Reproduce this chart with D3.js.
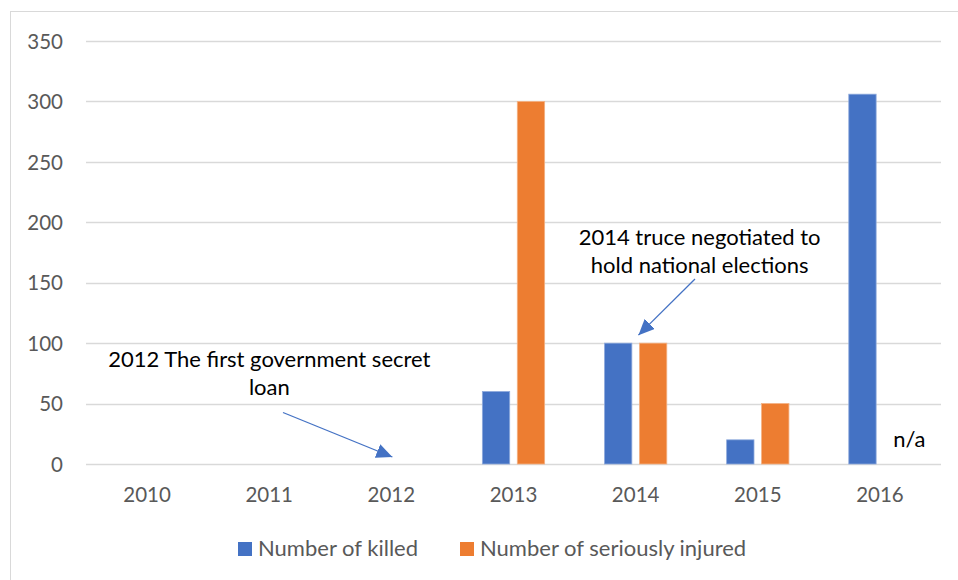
<!DOCTYPE html>
<html>
<head>
<meta charset="utf-8">
<script src="https://cdn.jsdelivr.net/npm/d3@7"></script>
<style>
  html, body { margin: 0; padding: 0; background: #fff; }
  svg { display: block; }
  text { font-family: Lato, "Open Sans", sans-serif; }
</style>
</head>
<body>
<svg id="chart" width="958" height="580"></svg>
<script>
const years = ["2010", "2011", "2012", "2013", "2014", "2015", "2016"];
const killed = [null, null, 0, 60, 100, 20, 306];
const injured = [null, null, 0, 300, 100, 50, null];
const seriesNames = ["Number of killed", "Number of seriously injured"];
const seriesColors = ["#4472C4", "#ED7D31"];
const yTicks = [0, 50, 100, 150, 200, 250, 300, 350];
const annotations = [
  { lines: ["2012 The first government secret", "loan"], year: "2012", value: 0 },
  { lines: ["2014 truce negotiated to", "hold national elections"], year: "2014", value: 100 }
];

const svg = d3.select("#chart");
const margin = { left: 86, right: 941, top: 41, bottom: 464 };

// chart border
svg.append("rect")
  .attr("x", 10.5).attr("y", 11.5)
  .attr("width", 960).attr("height", 600)
  .attr("fill", "none").attr("stroke", "#D9D9D9").attr("stroke-width", 1);

const y = d3.scaleLinear().domain([0, 350]).range([margin.bottom, margin.top]);
const x0 = d3.scaleBand().domain(years).range([margin.left, margin.right])
  .paddingInner(0.49).paddingOuter(0.245);
const x1 = d3.scaleBand().domain([0, 1]).range([0, x0.bandwidth()]).paddingInner(0.217).paddingOuter(0);

// gridlines
svg.append("g").selectAll("line").data(yTicks).join("line")
  .attr("x1", margin.left).attr("x2", margin.right)
  .attr("y1", d => Math.round(y(d)) + 0.5).attr("y2", d => Math.round(y(d)) + 0.5)
  .attr("stroke", "#D9D9D9").attr("stroke-width", 1.3);

// y axis labels
const yAxis = d3.axisLeft(y).tickValues(yTicks).tickSize(0).tickPadding(0);
const gy = svg.append("g").attr("transform", `translate(63,0)`).call(yAxis);
gy.select(".domain").remove();
gy.selectAll("text").attr("font-size", 20.5).attr("fill", "#595959")
  .attr("font-family", "Lato, sans-serif").attr("dy", "0.35em");

// x axis labels
const xAxis = d3.axisBottom(x0).tickSize(0).tickPadding(0);
const gx = svg.append("g").attr("transform", `translate(0,${margin.bottom})`).call(xAxis);
gx.select(".domain").remove();
gx.selectAll("text").attr("font-size", 20.5).attr("fill", "#595959")
  .attr("font-family", "Lato, sans-serif").attr("y", 38).attr("dy", "0");

// bars
const series = [killed, injured];
series.forEach((vals, si) => {
  svg.append("g").selectAll("rect")
    .data(years.map((yr, i) => ({ yr, v: vals[i] })).filter(d => d.v != null && d.v > 0))
    .join("rect")
    .attr("x", d => x0(d.yr) + x1(si))
    .attr("width", x1.bandwidth())
    .attr("y", d => y(d.v))
    .attr("height", d => y(0) - y(d.v))
    .attr("fill", seriesColors[si])
    .attr("stroke", si === 0 ? "#8FAADC" : "#F4B183")
    .attr("stroke-width", 0.8);
});

// n/a label for 2016 injured
svg.append("text")
  .attr("x", x0("2016") + x1(1) + x1.bandwidth() / 2 + 12)
  .attr("y", y(0) - 17)
  .attr("text-anchor", "middle")
  .attr("font-size", 22).attr("fill", "#000")
  .text("n/a");

// arrow marker
const defs = svg.append("defs");
defs.append("marker").attr("id", "arrow")
  .attr("viewBox", "0 0 10 9").attr("refX", 10).attr("refY", 4.5)
  .attr("markerWidth", 16).attr("markerHeight", 14.4)
  .attr("markerUnits", "userSpaceOnUse")
  .attr("orient", "auto")
  .append("path").attr("d", "M0,0 L10,4.5 L0,9 Z").attr("fill", "#4472C4");

// annotation 2012
const a0 = annotations[0];
const a0x = x0(a0.year) + x0.bandwidth() / 2 - 122;
svg.append("text").attr("text-anchor", "middle").attr("font-size", 22).attr("fill", "#000")
  .selectAll("tspan").data(a0.lines).join("tspan")
  .attr("x", a0x).attr("y", (d, i) => 367 + i * 28).text(d => d);
svg.append("line")
  .attr("x1", 283).attr("y1", 412.5)
  .attr("x2", x0(a0.year) + x0.bandwidth() / 2 + 1).attr("y2", y(a0.value) - 7)
  .attr("stroke", "#4472C4").attr("stroke-width", 1.3)
  .attr("marker-end", "url(#arrow)");

// annotation 2014
const a1 = annotations[1];
const a1x = x0(a1.year) + x0.bandwidth() / 2 + 64;
svg.append("text").attr("text-anchor", "middle").attr("font-size", 22).attr("fill", "#000")
  .selectAll("tspan").data(a1.lines).join("tspan")
  .attr("x", a1x).attr("y", (d, i) => 245 + i * 28).text(d => d);
svg.append("line")
  .attr("x1", 695).attr("y1", 279)
  .attr("x2", x0(a1.year) + x1(1) - 1).attr("y2", y(a1.value) - 8)
  .attr("stroke", "#4472C4").attr("stroke-width", 1.3)
  .attr("marker-end", "url(#arrow)");

// legend
const legendItems = [{ x: 238, name: seriesNames[0], c: seriesColors[0] }, { x: 460, name: seriesNames[1], c: seriesColors[1] }];
const lg = svg.append("g");
legendItems.forEach(it => {
  lg.append("rect").attr("x", it.x).attr("y", 542).attr("width", 14).attr("height", 14).attr("fill", it.c);
  lg.append("text").attr("x", it.x + 20).attr("y", 556).attr("font-size", 22).attr("fill", "#595959").text(it.name);
});
</script>
</body>
</html>
